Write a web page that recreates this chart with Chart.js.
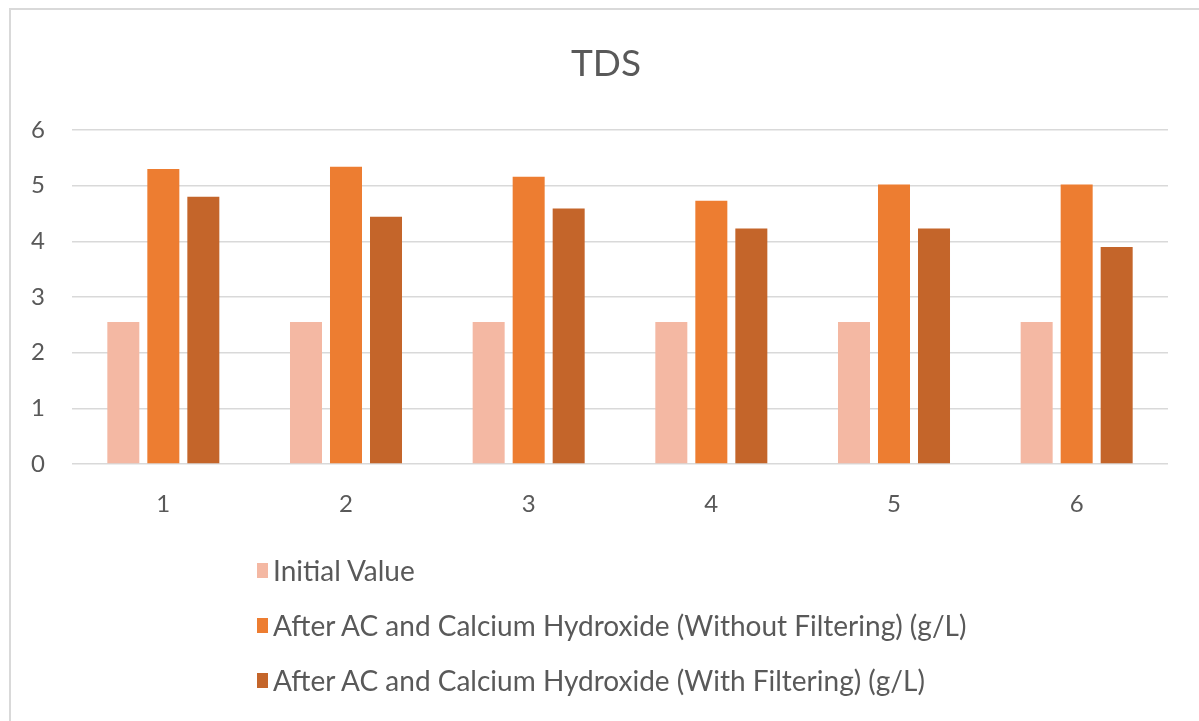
<!DOCTYPE html>
<html>
<head>
<meta charset="utf-8">
<script src="https://cdn.jsdelivr.net/npm/chart.js@4.4.1/dist/chart.umd.min.js"></script>
<style>
  html, body { margin: 0; padding: 0; background: #ffffff; }
  #wrap { position: relative; width: 1199px; height: 721px; overflow: hidden; }
  #frame { position: absolute; left: 9px; top: 8px; width: 1300px; height: 800px;
           border-top: 2px solid #d9d9d9; border-left: 2px solid #d9d9d9; box-sizing: border-box; }
  canvas { position: absolute; left: 0; top: 0; }
  #title { position: absolute; left: 0; width: 1212px; top: 38px; text-align: center;
           font-family: Lato, "Open Sans", sans-serif; font-size: 37px; color: #595959; line-height: 48px; }
  #legend { position: absolute; left: 257px; top: 0; font-family: Lato, "Open Sans", sans-serif;
            font-size: 28px; color: #595959; }
  .item { position: absolute; left: 0; white-space: nowrap; display: flex; align-items: center; height: 30px; }
  .swatch { width: 11px; height: 15px; margin-right: 5px; flex: none; }
</style>
</head>
<body>
<div id="wrap">
  <div id="frame"></div>
  <canvas id="chart" width="1199" height="721"></canvas>
  <div id="title">TDS</div>
  <div id="legend"></div>
</div>
<script>
// Sample numbers along the x axis
const categories = ['1', '2', '3', '4', '5', '6'];

// TDS readings (g/L)
const initialValue = [2.55, 2.55, 2.55, 2.55, 2.55, 2.55];
const withoutFiltering = [5.30, 5.34, 5.16, 4.73, 5.02, 5.02];
const withFiltering = [4.80, 4.44, 4.59, 4.23, 4.23, 3.90];

const seriesNames = [
  'Initial Value',
  'After AC and Calcium Hydroxide (Without Filtering) (g/L)',
  'After AC and Calcium Hydroxide (With Filtering) (g/L)'
];
const seriesColors = ['#f4b8a3', '#ed7d31', '#c4652a'];

const textColor = '#595959';
const fontFamily = 'Lato, "Open Sans", sans-serif';

const chart = new Chart(document.getElementById('chart'), {
  type: 'bar',
  data: {
    labels: categories,
    datasets: [initialValue, withoutFiltering, withFiltering].map((values, i) => ({
      label: seriesNames[i],
      data: values,
      backgroundColor: seriesColors[i],
      borderWidth: 0,
      barPercentage: 0.8,
      categoryPercentage: 0.657
    }))
  },
  options: {
    responsive: false,
    animation: false,
    layout: { padding: { left: 0, right: 31, top: 130, bottom: 197 } },
    plugins: {
      legend: { display: false },
      tooltip: { enabled: false },
      title: { display: false }
    },
    scales: {
      x: {
        grid: { display: false, drawTicks: false },
        border: { display: false },
        ticks: { color: textColor, font: { family: fontFamily, size: 24 }, padding: 26 },
        afterFit: s => { s.height = 60; }
      },
      y: {
        min: 0,
        max: 6,
        ticks: { stepSize: 1, color: textColor, font: { family: fontFamily, size: 24 }, padding: 27 },
        grid: { color: '#d9d9d9', lineWidth: 1.5, drawTicks: false },
        border: { display: false },
        afterFit: s => { s.width = 72; }
      }
    }
  }
});

// Vertical legend under the axis, one row per series
const legend = document.getElementById('legend');
const rowCenters = [570, 625, 680];
chart.data.datasets.forEach((ds, i) => {
  const item = document.createElement('div');
  item.className = 'item';
  item.style.top = (rowCenters[i] - 15) + 'px';
  const sw = document.createElement('span');
  sw.className = 'swatch';
  sw.style.background = ds.backgroundColor;
  const label = document.createElement('span');
  label.textContent = ds.label;
  item.appendChild(sw);
  item.appendChild(label);
  legend.appendChild(item);
});
</script>
</body>
</html>
